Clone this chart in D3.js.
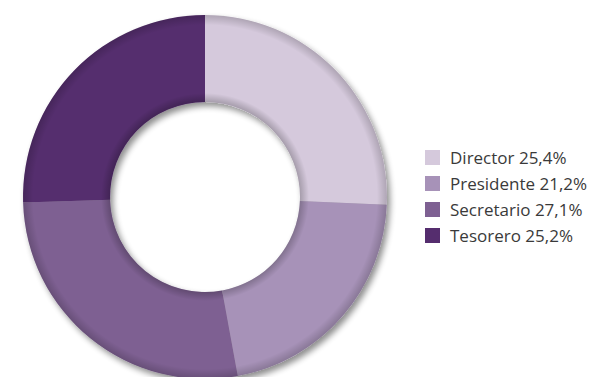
<!DOCTYPE html>
<html>
<head>
<meta charset="utf-8">
<script src="https://cdn.jsdelivr.net/npm/d3@7"></script>
<style>
  body { margin: 0; background: #fff; }
  text { font-family: "Open Sans", sans-serif; }
</style>
</head>
<body>
<script>
var width = 597;
var height = 377;

// data
var categories = ["Director", "Presidente", "Secretario", "Tesorero"];
var values = [25.4, 21.2, 27.1, 25.2];
var labels = ["Director 25,4%", "Presidente 21,2%", "Secretario 27,1%", "Tesorero 25,2%"];
var colors = ["#d5c9dc", "#a792b8", "#7e6092", "#552d6e"];

var cx = 205, cy = 197;
var outerR = 182, innerR = 95;

var svg = d3.select("body")
  .append("svg")
  .attr("width", width)
  .attr("height", height);

var defs = svg.append("defs");

// soft drop shadow under the ring
var f = defs.append("filter")
  .attr("id", "shadow")
  .attr("x", "-20%").attr("y", "-20%")
  .attr("width", "140%").attr("height", "140%");
f.append("feGaussianBlur").attr("in", "SourceAlpha").attr("stdDeviation", 3).attr("result", "b");
f.append("feOffset").attr("in", "b").attr("dx", 3).attr("dy", 4).attr("result", "o");
f.append("feComponentTransfer").attr("in", "o").attr("result", "s")
  .append("feFuncA").attr("type", "linear").attr("slope", 0.45);
var m = f.append("feMerge");
m.append("feMergeNode").attr("in", "s");
m.append("feMergeNode").attr("in", "SourceGraphic");

// bevel: darker at both edges of the ring
var bevel = defs.append("radialGradient")
  .attr("id", "bevel")
  .attr("gradientUnits", "userSpaceOnUse")
  .attr("cx", 0).attr("cy", 0).attr("r", outerR);
var stops = [
  [innerR / outerR, 0.22],
  [(innerR + 9) / outerR, 0.0],
  [(outerR - 10) / outerR, 0.0],
  [1, 0.18]
];
stops.forEach(function(s) {
  bevel.append("stop")
    .attr("offset", s[0])
    .attr("stop-color", "#000")
    .attr("stop-opacity", s[1]);
});

var pie = d3.pie().sort(null).value(function(d) { return d; });
var arc = d3.arc().innerRadius(innerR).outerRadius(outerR);

var g = svg.append("g")
  .attr("transform", "translate(" + cx + "," + cy + ")");

var ring = g.append("g").attr("filter", "url(#shadow)");

ring.selectAll("path")
  .data(pie(values))
  .enter()
  .append("path")
  .attr("d", arc)
  .style("fill", function(d, i) { return colors[i]; });

g.append("path")
  .attr("d", d3.arc().innerRadius(innerR).outerRadius(outerR)({startAngle: 0, endAngle: 2 * Math.PI}))
  .style("fill", "url(#bevel)")
  .style("pointer-events", "none");

// legend
var legend = svg.append("g")
  .attr("transform", "translate(425,150)");

var item = legend.selectAll("g")
  .data(categories)
  .enter()
  .append("g")
  .attr("transform", function(d, i) { return "translate(0," + (i * 26) + ")"; });

item.append("rect")
  .attr("width", 15)
  .attr("height", 15)
  .style("fill", function(d, i) { return colors[i]; });

item.append("text")
  .attr("x", 25)
  .attr("y", 14)
  .style("font-size", "17px")
  .style("fill", "#3a3a3a")
  .text(function(d, i) { return labels[i]; });
</script>
</body>
</html>
